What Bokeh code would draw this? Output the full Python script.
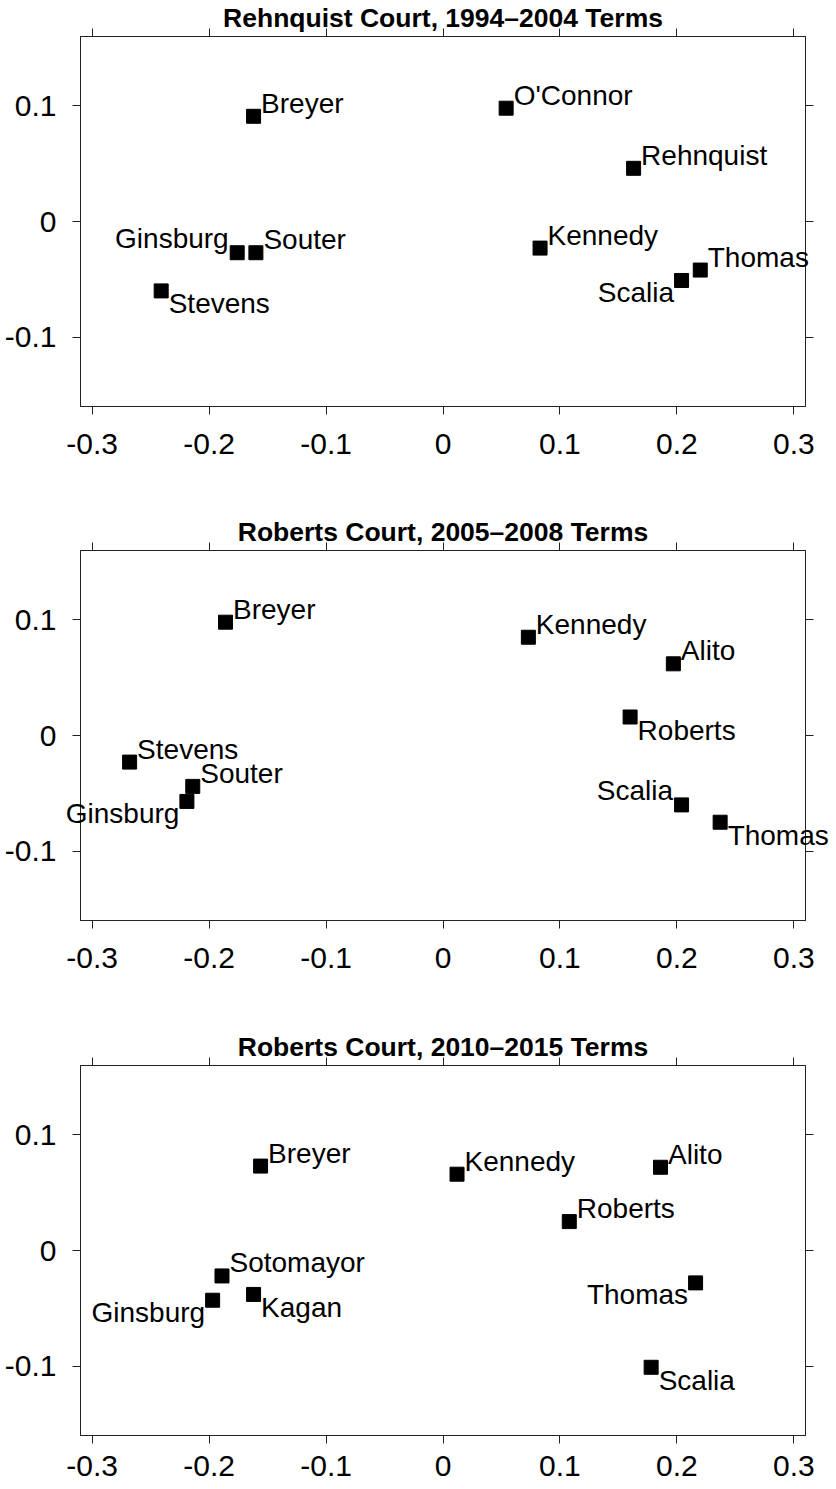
from bokeh.plotting import figure
from bokeh.models import ColumnDataSource, HTMLLabelSet, Label, LinearAxis, FixedTicker, Range1d
from bokeh.layouts import column
from bokeh.core.properties import value, field
from bokeh.embed import file_html
from bokeh.resources import INLINE

# ---------------- data ----------------
titles = ["Rehnquist Court, 1994\u20132004 Terms",
          "Roberts Court, 2005\u20132008 Terms",
          "Roberts Court, 2010\u20132015 Terms"]

x_ticks = [-0.3, -0.2, -0.1, 0, 0.1, 0.2, 0.3]
x_tick_labels = ["-0.3", "-0.2", "-0.1", "0", "0.1", "0.2", "0.3"]
y_ticks = [-0.1, 0, 0.1]
y_tick_labels = ["-0.1", "0", "0.1"]

names1 = ["Breyer", "O'Connor", "Rehnquist", "Kennedy", "Souter", "Ginsburg", "Stevens", "Scalia", "Thomas"]
x1 = [-0.162, 0.054, 0.163, 0.083, -0.160, -0.176, -0.241, 0.204, 0.220]
y1 = [0.091, 0.098, 0.046, -0.023, -0.027, -0.027, -0.060, -0.051, -0.042]
pos1 = ["ur", "ur", "ur", "ur", "ur", "ul", "lr", "ll", "ur"]

names2 = ["Breyer", "Kennedy", "Alito", "Roberts", "Stevens", "Souter", "Ginsburg", "Scalia", "Thomas"]
x2 = [-0.186, 0.073, 0.197, 0.160, -0.268, -0.214, -0.219, 0.204, 0.237]
y2 = [0.098, 0.085, 0.062, 0.016, -0.023, -0.044, -0.057, -0.060, -0.075]
pos2 = ["ur", "ur", "ur", "lr", "ur", "ur", "ll", "ul", "lr"]

names3 = ["Breyer", "Kennedy", "Alito", "Roberts", "Sotomayor", "Kagan", "Ginsburg", "Thomas", "Scalia"]
x3 = [-0.156, 0.012, 0.186, 0.108, -0.189, -0.162, -0.197, 0.216, 0.178]
y3 = [0.073, 0.066, 0.072, 0.025, -0.022, -0.038, -0.043, -0.028, -0.101]
pos3 = ["ur", "ur", "ur", "ur", "ur", "lr", "ll", "ll", "lr"]

# ---------------- styles ----------------
PLACE = {"ur": ("left", 8, 12), "lr": ("left", 8, -14),
         "ul": ("right", -8, 13), "ll": ("right", -7, -13)}
FONT = "Liberation Sans"
LINE = "#222222"
X_RANGE = (-0.31, 0.31)
Y_RANGE = (-0.16, 0.16)
FRAME_H = 370


def make_panel(title, names, xs, ys, pos, border_top, border_bottom,
               x_standoff, title_place):
    p = figure(frame_width=725, frame_height=FRAME_H,
               min_border_left=80, min_border_right=30,
               min_border_top=border_top, min_border_bottom=border_bottom,
               x_range=Range1d(*X_RANGE), y_range=Range1d(*Y_RANGE),
               output_backend="svg", toolbar_location=None, tools="")
    p.grid.visible = False
    p.background_fill_color = "white"
    p.border_fill_color = "white"
    p.outline_line_color = LINE
    p.add_layout(LinearAxis(), "above")
    p.add_layout(LinearAxis(), "right")

    for ax, ticks, labels in [(p.below[0], x_ticks, x_tick_labels),
                              (p.left[0], y_ticks, y_tick_labels),
                              (p.above[0], x_ticks, None),
                              (p.right[0], y_ticks, None)]:
        ax.ticker = FixedTicker(ticks=ticks)
        ax.axis_line_color = LINE
        ax.axis_line_width = 1
        ax.major_tick_line_color = LINE
        ax.major_tick_out = 8
        ax.major_tick_in = 0
        ax.minor_tick_line_color = None
        ax.minor_tick_out = 0
        ax.minor_tick_in = 0
        if labels is None:
            ax.major_label_overrides = {t: "" for t in ticks}
            ax.major_label_text_font_size = "0px"
            ax.major_label_standoff = 0
        else:
            ax.major_label_overrides = dict(zip(ticks, labels))
            ax.major_label_text_font = FONT
            ax.major_label_text_font_size = "30px"
            ax.major_label_text_color = "black"
    p.below[0].major_label_standoff = x_standoff
    p.left[0].major_label_standoff = 16

    src = ColumnDataSource(dict(
        x=xs, y=ys, name=names,
        align=[PLACE[k][0] for k in pos],
        dx=[PLACE[k][1] for k in pos],
        dy=[PLACE[k][2] for k in pos],
    ))
    p.scatter("x", "y", source=src, marker="square", size=14,
              fill_color="black", line_color="black")
    labels = HTMLLabelSet(x="x", y="y", text="name", source=src,
                          x_offset=field("dx"), y_offset=field("dy"),
                          text_align=field("align"), text_baseline="alphabetic",
                          text_font=value(FONT), text_font_size="28px",
                          text_color="black")
    p.add_layout(labels)

    # title: centred ~18px above the top of the frame, kept in a side panel
    # so that it is not clipped to the frame
    px_per_unit = FRAME_H / (Y_RANGE[1] - Y_RANGE[0])
    p.add_layout(Label(x=0, y=Y_RANGE[1] + 18.5 / px_per_unit, text=title,
                       text_align="center", text_baseline="middle",
                       text_font=FONT, text_font_style="bold",
                       text_font_size="26.5px", text_color="black"),
                 title_place)
    return p


p1 = make_panel(titles[0], names1, x1, y1, pos1, 36, 108, 19, "below")
p2 = make_panel(titles[1], names2, x2, y2, pos2, 36, 107, 19, "below")
p3 = make_panel(titles[2], names3, x3, y3, pos3, 36, 54, 12, "above")

layout = column(p1, p2, p3, spacing=0)
open("out.html", "w").write(file_html(layout, INLINE))
